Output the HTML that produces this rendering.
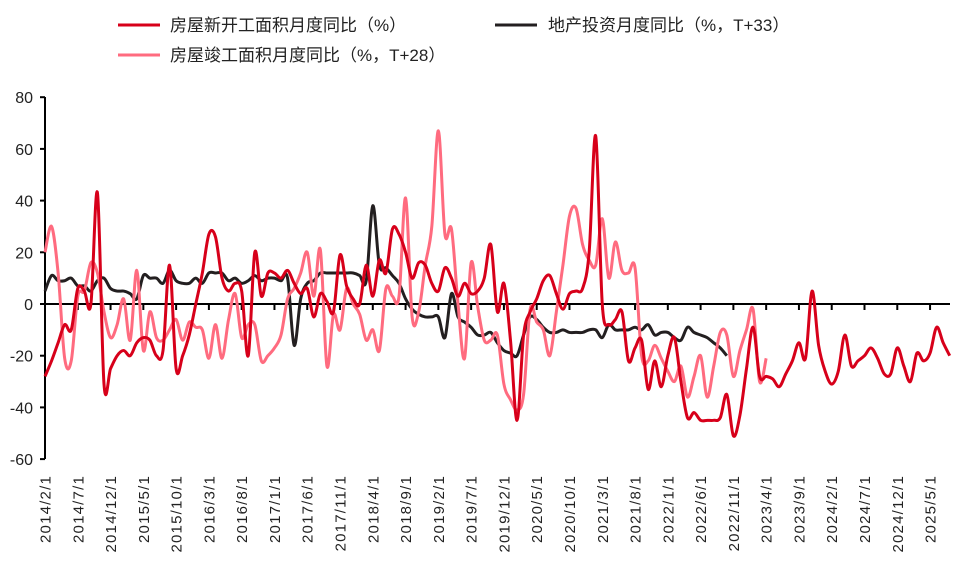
<!DOCTYPE html>
<html><head><meta charset="utf-8"><style>
body{margin:0;background:#fff;width:954px;height:565px;overflow:hidden}
svg{display:block;font-family:"Liberation Sans","Noto Sans CJK SC",sans-serif}
</style></head><body>
<svg id="chart" width="954" height="565">
<g>
<g><line x1="118" y1="25" x2="160" y2="25" stroke="#d7001a" stroke-width="3"/><text x="170" y="31" font-size="17" fill="#222">房屋新开工面积月度同比（%）</text></g>
<g><line x1="495" y1="25" x2="537" y2="25" stroke="#231f20" stroke-width="3"/><text x="548" y="31" font-size="17" fill="#222">地产投资月度同比（%，T+33）</text></g>
<g><line x1="118" y1="55" x2="160" y2="55" stroke="#ff6b7f" stroke-width="3"/><text x="170" y="61" font-size="17" fill="#222">房屋竣工面积月度同比（%，T+28）</text></g>
</g>
<g id="axes"></g>
<g id="series"></g>
</svg>
<script>
const startYear = 2014, startMonth = 2;
const yTicks = [80,60,40,20,0,-20,-40,-60];
const newStarts = [-28,-22,-15,-8,-10,6,5,0,43,-31,-25,-20,-18,-20,-15,-13,-14,-20,-18,15,-25,-20,-12,0,12,27,26,10,5,8,5,-20,20,3,12,12,10,13,8,4,6,-5,4,1,-3,19,7,2,0,15,3,17,12,29,27,20,10,16,15,8,5,14,10,3,8,4,5,10,23,-3,8,-14,-45,-12,-3,2,9,11,4,-2,4,5,6,20,65,0,-8,-6,-3,-22,-17,-14,-33,-22,-32,-20,-13,-30,-44,-42,-45,-45,-45,-44,-35,-51,-43,-25,-9,-28,-28,-29,-32,-27,-22,-15,-21,5,-16,-26,-31,-26,-12,-24,-22,-20,-17,-21,-27,-27,-17,-24,-30,-19,-22,-19,-9,-15,-20];
const investment = [5,11,9,9,10,7,7,5,9,10,6,5,5,4,2,11,10,10,8,13,9,8,8,10,8,12,12,12,9,10,8,9,11,9,10,10,9,10,-16,2,8,9,12,12,12,12,12,12,11,9,38,15,14,11,8,2,-2,-4,-5,-5,-5,-13,4,-5,-7,-9,-12,-12,-11,-15,-18,-19,-20,-12,-5,-6,-9,-11,-11,-10,-11,-11,-11,-10,-10,-13,-8,-10,-10,-10,-9,-10,-8,-12,-11,-11,-13,-14,-9,-11,-12,-13,-15,-17,-20];
const completions = [20,30,12,-21,-22,3,5,16,12,-3,-13,-8,2,-14,13,-18,-3,-13,-14,-10,-6,-14,-7,-9,-10,-21,-8,-21,-6,4,-13,-8,-8,-22,-20,-17,-12,2,6,12,20,3,21,-24,-4,-10,6,0,-4,-14,-10,-18,6,3,3,41,-5,-3,15,30,67,27,29,0,-21,16,-1,-14,-14,-12,-31,-37,-41,-35,-2,-7,-10,-20,-3,15,34,37,23,17,15,33,10,24,13,12,14,-20,-22,-16,-21,-26,-30,-24,-36,-28,-20,-36,-24,-11,-12,-28,-18,-10,-2,-30,-21];

const NS='http://www.w3.org/2000/svg';
const x = m => 45 + m*6.556;
const y = v => 304 - v*2.585;
const axes = document.getElementById('axes'), ser = document.getElementById('series');
function mk(tag, attrs, parent){const e=document.createElementNS(NS,tag);for(const k in attrs)e.setAttribute(k,attrs[k]);parent.appendChild(e);return e;}

const ya = mk('line',{x1:45,y1:97,x2:45,y2:459,stroke:'#000','stroke-width':2},axes);


yTicks.forEach(v=>{
  const t = mk('line',{x1:40,y1:y(v),x2:45,y2:y(v),stroke:'#000','stroke-width':2},axes);
  
  
  const l = mk('text',{x:33,y:y(v)+6,'text-anchor':'end','font-size':16,fill:'#222'},axes);
  l.textContent = v;
  
  
});
const xa = mk('line',{x1:45,y1:304,x2:950,y2:304,stroke:'#000','stroke-width':2},axes);


for(let m=0;m<newStarts.length;m+=5){
  const t = mk('line',{x1:x(m),y1:304,x2:x(m),y2:310,stroke:'#000','stroke-width':2},axes);
  
  
  const mo = startMonth-1+m, yr = startYear+Math.floor(mo/12), mn = mo%12+1;
  const l = mk('text',{x:0,y:0,'text-anchor':'end','font-size':15,'letter-spacing':1.2,fill:'#222',transform:`translate(${x(m)+5.5},475) rotate(-90)`},axes);
  l.textContent = `${yr}/${mn}/1`;
  
  
}
function smooth(vals){
  const p = vals.map((v,i)=>[x(i),y(v)]);
  let d = `M${p[0][0]},${p[0][1]}`;
  for(let i=0;i<p.length-1;i++){
    const p0=p[Math.max(0,i-1)],p1=p[i],p2=p[i+1],p3=p[Math.min(p.length-1,i+2)];
    const c1=[p1[0]+(p2[0]-p0[0])/6,p1[1]+(p2[1]-p0[1])/6];
    const c2=[p2[0]-(p3[0]-p1[0])/6,p2[1]-(p3[1]-p1[1])/6];
    d+=` C${c1[0]},${c1[1]} ${c2[0]},${c2[1]} ${p2[0]},${p2[1]}`;
  }
  return d;
}
const s1 = mk('path',{d:smooth(investment),fill:'none',stroke:'#231f20','stroke-width':3},ser);


const s2 = mk('path',{d:smooth(completions),fill:'none',stroke:'#ff6b7f','stroke-width':3},ser);


const s3 = mk('path',{d:smooth(newStarts),fill:'none',stroke:'#d7001a','stroke-width':3},ser);


</script>
</body></html>
